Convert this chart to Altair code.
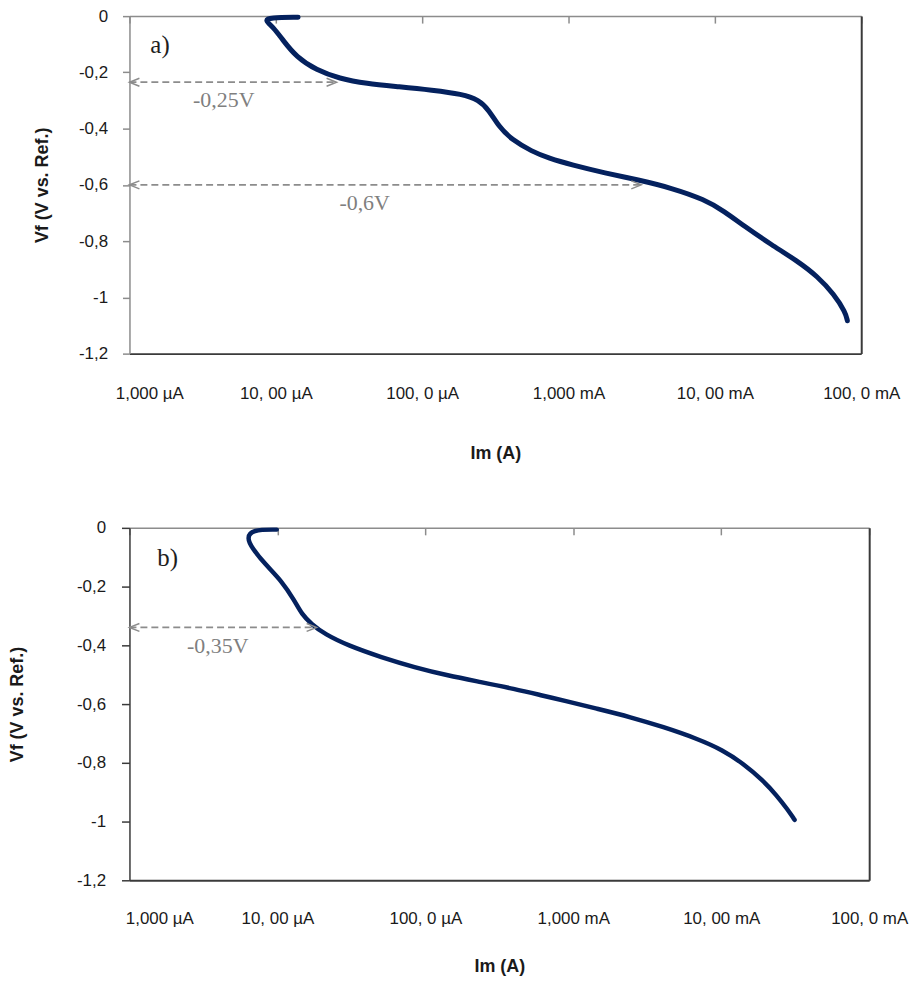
import json
import altair as alt
import pandas as pd

# ---------------- data ----------------
TICK_VALUES = [1e-6, 1e-5, 1e-4, 1e-3, 1e-2, 1e-1]
TICK_LABELS = ["1,000 µA", "10, 00 µA", "100, 0 µA", "1,000 mA", "10, 00 mA", "100, 0 mA"]
Y_TICKS = [0, -0.2, -0.4, -0.6, -0.8, -1, -1.2]

# panel a) : current (A) and potential (V) in drawing order
A_CURRENT = [1.42e-5, 9.1e-6, 8.4e-6, 9.6e-6, 1.12e-5, 1.38e-5, 1.89e-5, 2.72e-5,
             4.14e-5, 6.98e-5, 1.17e-4, 1.88e-4, 2.44e-4, 2.86e-4, 3.34e-4, 4.11e-4,
             5.62e-4, 7.31e-4, 1.05e-3, 1.78e-3, 2.99e-3, 5.05e-3, 8.51e-3, 1.16e-2,
             1.59e-2, 2.42e-2, 3.67e-2, 5.02e-2, 6.52e-2, 7.82e-2, 8.04e-2]
A_POTENTIAL = [-0.004, -0.005, -0.015, -0.039, -0.086, -0.145, -0.192, -0.222,
               -0.240, -0.251, -0.263, -0.277, -0.298, -0.334, -0.393, -0.440,
               -0.481, -0.505, -0.529, -0.558, -0.582, -0.611, -0.652, -0.694,
               -0.747, -0.812, -0.871, -0.925, -0.989, -1.054, -1.083]

# panel b)
B_CURRENT = [9.9e-6, 6.73e-6, 6.22e-6, 6.73e-6, 8.26e-6, 1.07e-5, 1.31e-5, 1.46e-5,
             1.70e-5, 2.09e-5, 3.01e-5, 5.05e-5, 8.45e-5, 1.42e-4, 2.37e-4, 3.98e-4,
             6.3e-4, 8.63e-4, 1.45e-3, 2.43e-3, 4.06e-3, 6.82e-3, 1.03e-2, 1.40e-2,
             1.91e-2, 2.36e-2, 2.82e-2, 3.13e-2]
B_POTENTIAL = [-0.006, -0.006, -0.034, -0.068, -0.124, -0.181, -0.249, -0.294,
               -0.328, -0.362, -0.401, -0.441, -0.475, -0.503, -0.525, -0.548,
               -0.572, -0.588, -0.616, -0.644, -0.678, -0.717, -0.757, -0.802,
               -0.859, -0.910, -0.960, -0.994]

# annotations (dashed double arrows from the axis to the curve)
A_ARROW_LEVEL = [-0.235, -0.6]
A_ARROW_END = [2.6e-5, 3.14e-3]
A_ARROW_TEXT = ["-0,25V", "-0,6V"]
A_TEXT_X = [2.72e-6, 2.72e-5]
A_TEXT_Y = [-0.297, -0.666]

B_ARROW_LEVEL = [-0.339]
B_ARROW_END = [1.84e-5]
B_ARROW_TEXT = ["-0,35V"]
B_TEXT_X = [2.45e-6]
B_TEXT_Y = [-0.403]

# ---------------- styles ----------------
NAVY = "#04215e"
GRAY = "#8c8c8c"
DARK = "#3a3a3a"
TXT = "#1a1a1a"
SANS = "Liberation Sans"
SERIF = "Liberation Serif"

X_LABEL_EXPR = json.dumps(TICK_LABELS, ensure_ascii=False) + "[round(log(datum.value)/LN10)+6]"
Y_LABEL_EXPR = "replace(toString(datum.value), '.', ',')"


def panel(cur, pot, lvl, end, ttext, tx, ty, letter, W, H, p):
    xs = alt.Scale(type="log", domain=[1e-6, 1e-1], nice=False)
    ys = alt.Scale(domain=[-1.2, 0], nice=False, zero=False)

    df = pd.DataFrame({"I": cur, "V": pot, "k": list(range(len(cur)))})
    adf = pd.DataFrame({"x0": [1e-6] * len(lvl), "x1": end, "y": lvl})
    tdf = pd.DataFrame({"x": tx, "y": ty, "t": ttext})

    line = alt.Chart(df).mark_line(
        color=NAVY, strokeWidth=p["lw"], interpolate="basis", strokeCap="round"
    ).encode(
        x=alt.X("I:Q", scale=xs, axis=alt.Axis(
            orient="bottom", offset=-H, labels=False, ticks=True, tickSize=7,
            tickColor=GRAY, tickWidth=1.5, domainColor=GRAY, domainWidth=1.5,
            values=TICK_VALUES, title=None, grid=False)),
        y=alt.Y("V:Q", scale=ys, axis=alt.Axis(
            values=Y_TICKS, labelExpr=Y_LABEL_EXPR, tickSize=p["ytick"],
            tickColor=p["ycol"], tickWidth=1.5, domainColor=p["ycol"], domainWidth=1.5,
            labelPadding=p["ylp"], title="Vf (V vs. Ref.)", titlePadding=p["ytp"],
            grid=False)),
        order="k:Q",
    )

    rules = alt.Chart(adf).mark_rule(
        color=GRAY, strokeDash=[7, 4], strokeWidth=1.8
    ).encode(
        x=alt.X("x0:Q", scale=xs, axis=alt.Axis(
            orient="bottom", domain=True, domainColor=DARK, domainWidth=2,
            ticks=False, tickSize=0, values=TICK_VALUES, labelExpr=X_LABEL_EXPR,
            labelFlush=False, labelOverlap=False,
            labelOffset={"condition": {"test": "datum.value < 2e-6", "value": p["first"]},
                         "value": 0},
            labelPadding=p["xlp"], title="Im (A)", titlePadding=p["xtp"], grid=False)),
        x2="x1:Q",
        y=alt.Y("y:Q", scale=ys, axis=alt.Axis(
            orient="right", labels=False, ticks=False, domainColor=DARK,
            domainWidth=2, title=None, grid=False)),
    )

    left_heads = alt.Chart(adf).mark_point(
        shape="M 2 -0.8 L 0 0 L 2 0.8", size=100, color=GRAY, strokeWidth=1.5,
        filled=False, opacity=1
    ).encode(
        x=alt.X("x0:Q", scale=xs, axis=None),
        y=alt.Y("y:Q", scale=ys, axis=None),
    )
    right_heads = alt.Chart(adf).mark_point(
        shape="M -2 -0.8 L 0 0 L -2 0.8", size=100, color=GRAY, strokeWidth=1.5,
        filled=False, opacity=1
    ).encode(
        x=alt.X("x1:Q", scale=xs, axis=None),
        y=alt.Y("y:Q", scale=ys, axis=None),
    )

    texts = alt.Chart(tdf).mark_text(
        align="left", baseline="middle", font=SERIF, fontSize=22, color="#7f7f7f"
    ).encode(
        x=alt.X("x:Q", scale=xs, axis=None),
        y=alt.Y("y:Q", scale=ys, axis=None),
        text="t:N",
    )

    lab = alt.Chart(pd.DataFrame({"t": [letter]})).mark_text(
        align="left", baseline="middle", font=SERIF, fontSize=25, color="#1e1e1e"
    ).encode(
        x=alt.value(p["lx"]), y=alt.value(p["ly"]), text="t:N"
    )

    return alt.layer(rules, line, left_heads, right_heads, texts, lab).resolve_axis(
        x="independent", y="independent"
    ).properties(width=W, height=H)


pa = panel(A_CURRENT, A_POTENTIAL, A_ARROW_LEVEL, A_ARROW_END, A_ARROW_TEXT,
           A_TEXT_X, A_TEXT_Y, "a)", 735, 339,
           dict(lw=5, ytick=7, ycol=GRAY, ylp=15, ytp=27, first=20, xlp=32, xtp=43,
                lx=21, ly=29))
pb = panel(B_CURRENT, B_POTENTIAL, B_ARROW_LEVEL, B_ARROW_END, B_ARROW_TEXT,
           B_TEXT_X, B_TEXT_Y, "b)", 743, 354,
           dict(lw=4.5, ytick=8, ycol=DARK, ylp=16, ytp=50, first=30, xlp=30, xtp=32,
                lx=28, ly=30))

chart = alt.vconcat(pa, pb, spacing=57).properties(
    padding={"left": 0, "top": -3, "right": 5, "bottom": 5}
).configure_view(
    stroke=None
).configure_axis(
    labelFont=SANS, labelFontSize=17, labelColor=TXT,
    titleFont=SANS, titleFontSize=18, titleFontWeight="bold", titleColor=TXT,
    grid=False,
)

chart.save("out.html", embed_options={"renderer": "svg", "actions": False})
